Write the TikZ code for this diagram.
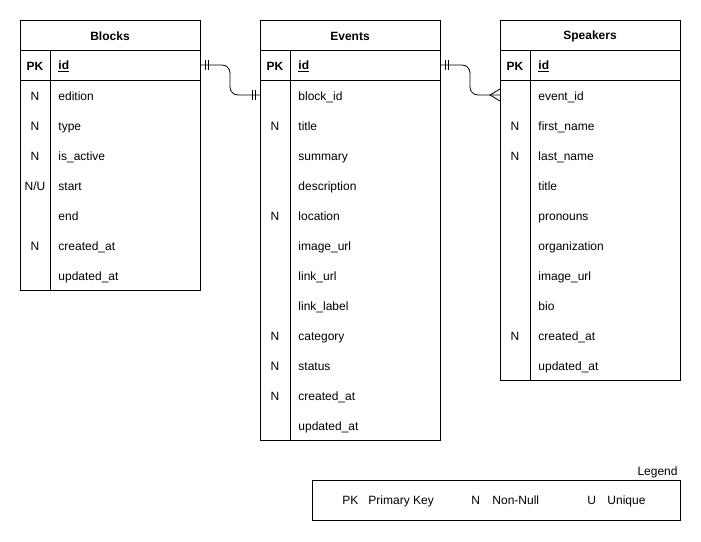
\documentclass[tikz,border=0pt]{standalone}
\usepackage{fontspec}
\setmainfont{Liberation Sans}
\begin{document}
\begin{tikzpicture}[x=1pt,y=-1pt,line width=0.9pt,
  txt/.style={font=\fontsize{12}{14}\selectfont, inner sep=0pt},
  key/.style={txt, anchor=center},
  fld/.style={txt, anchor=west},
  hdr/.style={txt, font=\fontsize{12}{14}\selectfont\bfseries}]
\useasboundingbox (0,0) rectangle (701,541);
% ---------- Blocks ----------
\draw (20,20) rectangle (200,290);
\draw (20,50) -- (200,50); \draw (20,80) -- (200,80); \draw (50,50) -- (50,290);
\node[hdr] (bh) at (110,36.5) {Blocks};
\node[hdr] (bpk) at (35,66.5) {PK};
\node[hdr, anchor=west] (bid) at (58,66.5) {\underline{id}};
\foreach \k/\t [count=\i] in {N/edition, N/type, N/is\_active, {N/U}/start, {}/end, N/created\_at, {}/updated\_at}{
  \node[key] (bk\i) at (35,67.5+30*\i) {\strut\k};
  \node[fld] (bf\i) at (58,67.5+30*\i) {\strut\t};
}
% ---------- Events ----------
\draw (260,20) rectangle (440,440);
\draw (260,50) -- (440,50); \draw (260,80) -- (440,80); \draw (290,50) -- (290,440);
\node[hdr] (eh) at (350,36.5) {Events};
\node[hdr] (epk) at (275,66.5) {PK};
\node[hdr, anchor=west] (eid) at (298,66.5) {\underline{id}};
\foreach \k/\t [count=\i] in {{}/block\_id, N/title, {}/summary, {}/description, N/location, {}/image\_url, {}/link\_url, {}/link\_label, N/category, N/status, N/created\_at, {}/updated\_at}{
  \node[key] (ek\i) at (275,67.5+30*\i) {\strut\k};
  \node[fld] (ef\i) at (298,67.5+30*\i) {\strut\t};
}
% ---------- Speakers ----------
\draw (500,20) rectangle (680,380);
\draw (500,50) -- (680,50); \draw (500,80) -- (680,80); \draw (530,50) -- (530,380);
\node[hdr] (sh) at (590,36.5) {Speakers};
\node[hdr] (spk) at (515,66.5) {PK};
\node[hdr, anchor=west] (sid) at (538,66.5) {\underline{id}};
\foreach \k/\t [count=\i] in {{}/event\_id, N/first\_name, N/last\_name, {}/title, {}/pronouns, {}/organization, {}/image\_url, {}/bio, N/created\_at, {}/updated\_at}{
  \node[key] (sk\i) at (515,67.5+30*\i) {\strut\k};
  \node[fld] (sf\i) at (538,67.5+30*\i) {\strut\t};
}
% ---------- connectors ----------
\coordinate (bidR) at (200,65);
\coordinate (eblkL) at (260,95);
\coordinate (eidR) at (440,65);
\coordinate (sevL) at (500,95);
\draw[line width=0.8pt, rounded corners=8pt] (bidR) -- (230,65) -- (230,95) -- (eblkL);
\draw[line width=0.8pt] (205,60) -- (205,70) (208,60) -- (208,70);
\draw[line width=0.8pt] (252,90) -- (252,100) (255,90) -- (255,100);
\draw[line width=0.8pt, rounded corners=8pt] (eidR) -- (470,65) -- (470,95) -- (sevL);
\draw[line width=0.8pt] (445,60) -- (445,70) (448,60) -- (448,70);
\draw[line width=0.8pt] (500,89) -- (490,95) -- (500,101);
% ---------- legend ----------
\node[txt, anchor=east] (lg) at (678,472) {Legend};
\draw (312,480) rectangle (680,520);
\node[txt, anchor=west] (l1) at (342,502) {\strut PK};
\node[txt, anchor=west] (l2) at (368,502) {\strut Primary Key};
\node[txt, anchor=west] (l3) at (471,502) {\strut N};
\node[txt, anchor=west] (l4) at (492,502) {\strut Non-Null};
\node[txt, anchor=west] (l5) at (587,502) {\strut U};
\node[txt, anchor=west] (l6) at (607,502) {\strut Unique};
\end{tikzpicture}
\end{document}
